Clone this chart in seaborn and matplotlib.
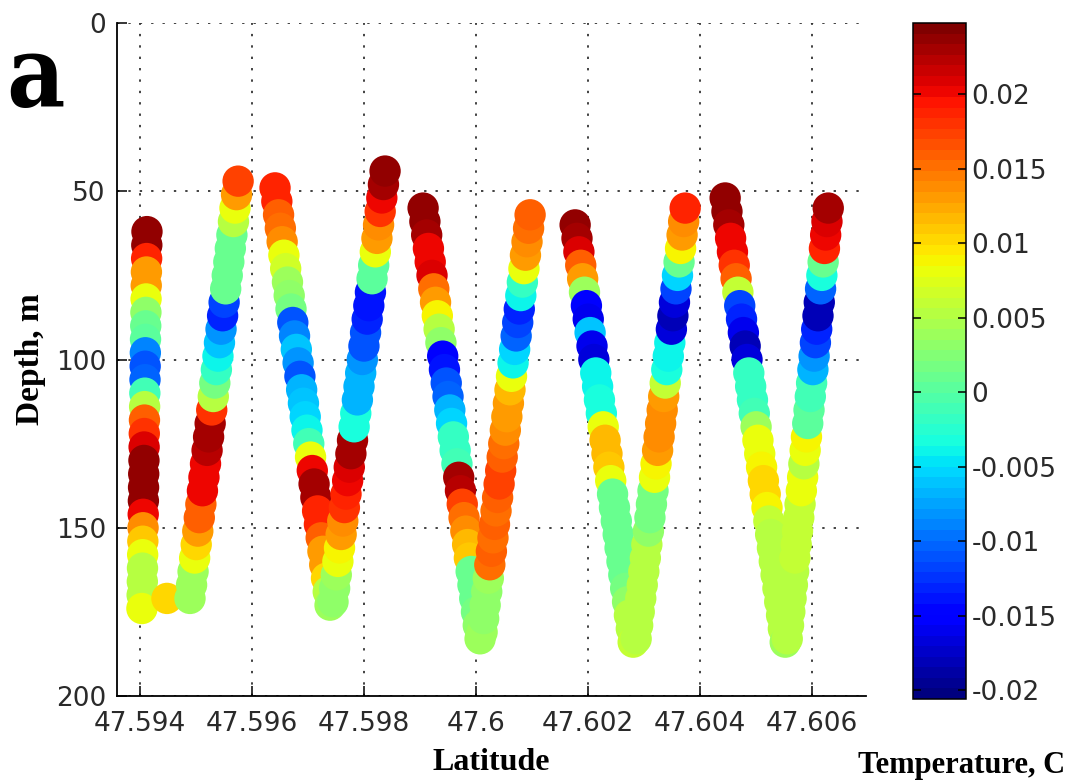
import numpy as np
import pandas as pd
import matplotlib
matplotlib.use("Agg")
import matplotlib.pyplot as plt
from matplotlib.colors import Normalize
from matplotlib.cm import ScalarMappable
import seaborn as sns

# ---------------- data ----------------
# glider track, leg by leg, in time order: latitude (deg N), depth (m), temperature anomaly (C)
leg1_lat = [47.594125, 47.594122, 47.594119, 47.594115, 47.594112, 47.594109, 47.594106, 47.594103,
            47.594099, 47.594096, 47.594093, 47.594090, 47.594087, 47.594083, 47.594080, 47.594077,
            47.594074, 47.594071, 47.594067, 47.594064, 47.594061, 47.594058, 47.594055, 47.594051,
            47.594048, 47.594045, 47.594042, 47.594039, 47.594035, 47.594482]
leg1_depth = [62, 66, 70, 74, 78, 82, 86, 90, 94, 98, 102, 106, 110, 114, 118, 122, 126, 130, 134,
              138, 142, 146, 150, 154, 158, 162, 166, 170, 174, 171]
leg1_temp = [0.024, 0.024, 0.019, 0.013, 0.013, 0.008, 0.003, 0.001, 0.000, -0.009, -0.011, -0.010,
             -0.001, 0.005, 0.016, 0.018, 0.021, 0.024, 0.024, 0.024, 0.024, 0.020, 0.014, 0.011,
             0.008, 0.005, 0.005, 0.005, 0.008, 0.010]

leg2_lat = [47.594893, 47.594921, 47.594948, 47.594976, 47.595004, 47.595032, 47.595059, 47.595087,
            47.595115, 47.595142, 47.595170, 47.595198, 47.595225, 47.595253, 47.595281, 47.595309,
            47.595336, 47.595364, 47.595392, 47.595419, 47.595447, 47.595475, 47.595502, 47.595530,
            47.595558, 47.595586, 47.595613, 47.595641, 47.595669, 47.595696, 47.595724, 47.595752]
leg2_depth = [171, 167, 163, 159, 155, 151, 147, 143, 139, 135, 131, 127, 123, 119, 115, 111, 107,
              103, 99, 95, 91, 87, 83, 79, 75, 71, 67, 63, 59, 55, 51, 47]
leg2_temp = [0.004, 0.004, 0.004, 0.008, 0.010, 0.013, 0.016, 0.016, 0.020, 0.020, 0.020, 0.022,
             0.023, 0.023, 0.018, 0.005, 0.002, -0.002, -0.004, -0.006, -0.008, -0.013, -0.012,
             0.001, 0.001, 0.001, 0.001, 0.001, 0.005, 0.008, 0.013, 0.017]

leg3_lat = [47.596411, 47.596443, 47.596474, 47.596506, 47.596538, 47.596569, 47.596601, 47.596633,
            47.596664, 47.596696, 47.596728, 47.596759, 47.596791, 47.596823, 47.596855, 47.596886,
            47.596918, 47.596950, 47.596981, 47.597013, 47.597045, 47.597076, 47.597108, 47.597140,
            47.597171, 47.597203, 47.597235, 47.597266, 47.597298, 47.597330, 47.597361, 47.597393]
leg3_depth = [49, 53, 57, 61, 65, 69, 73, 77, 81, 85, 89, 93, 97, 101, 105, 109, 113, 117, 121, 125,
              129, 133, 137, 141, 145, 149, 153, 157, 161, 165, 169, 173]
leg3_temp = [0.019, 0.019, 0.016, 0.015, 0.014, 0.008, 0.007, 0.004, 0.003, 0.002, -0.011, -0.009,
             -0.006, -0.008, -0.011, -0.007, -0.006, -0.005, -0.004, -0.001, 0.008, 0.020, 0.023,
             0.023, 0.019, 0.019, 0.016, 0.013, 0.013, 0.010, 0.005, 0.004]

leg4_lat = [47.597446, 47.597475, 47.597504, 47.597533, 47.597562, 47.597591, 47.597620, 47.597649,
            47.597678, 47.597707, 47.597736, 47.597765, 47.597794, 47.597823, 47.597852, 47.597881,
            47.597910, 47.597940, 47.597969, 47.597998, 47.598027, 47.598056, 47.598085, 47.598114,
            47.598143, 47.598172, 47.598201, 47.598230, 47.598259, 47.598288, 47.598317, 47.598346,
            47.598375]
leg4_depth = [172, 168, 164, 160, 156, 152, 148, 144, 140, 136, 132, 128, 124, 120, 116, 112, 108,
              104, 100, 96, 92, 88, 84, 80, 76, 72, 68, 64, 60, 56, 52, 48, 44]
leg4_temp = [0.003, 0.003, 0.004, 0.008, 0.009, 0.013, 0.014, 0.018, 0.019, 0.020, 0.021, 0.023,
             0.023, -0.003, -0.003, -0.007, -0.007, -0.007, -0.008, -0.011, -0.011, -0.013, -0.014,
             -0.014, 0.000, 0.000, 0.008, 0.013, 0.014, 0.018, 0.020, 0.023, 0.024]

leg5_lat = [47.599054, 47.599086, 47.599118, 47.599149, 47.599181, 47.599213, 47.599245, 47.599276,
            47.599308, 47.599340, 47.599372, 47.599404, 47.599435, 47.599467, 47.599499, 47.599531,
            47.599562, 47.599594, 47.599626, 47.599658, 47.599690, 47.599721, 47.599753, 47.599785,
            47.599817, 47.599849, 47.599880, 47.599912, 47.599944, 47.599976, 47.600007, 47.600039,
            47.600071]
leg5_depth = [55, 59, 63, 67, 71, 75, 79, 83, 87, 91, 95, 99, 103, 107, 111, 115, 119, 123, 127, 131,
              135, 139, 143, 147, 151, 155, 159, 163, 167, 171, 175, 179, 183]
leg5_temp = [0.024, 0.024, 0.023, 0.020, 0.020, 0.021, 0.015, 0.013, 0.009, 0.005, 0.003, -0.015,
             -0.014, -0.011, -0.010, -0.007, -0.005, -0.002, -0.002, -0.001, 0.023, 0.022, 0.017,
             0.015, 0.014, 0.012, 0.011, 0.001, 0.001, 0.001, 0.002, 0.003, 0.004]

leg6_lat = [47.600107, 47.600135, 47.600162, 47.600190, 47.600218, 47.600245, 47.600273, 47.600301,
            47.600328, 47.600356, 47.600384, 47.600411, 47.600439, 47.600466, 47.600494, 47.600522,
            47.600549, 47.600577, 47.600605, 47.600632, 47.600660, 47.600688, 47.600715, 47.600743,
            47.600771, 47.600798, 47.600826, 47.600854, 47.600881, 47.600909, 47.600937, 47.600964]
leg6_depth = [181, 177, 173, 169, 165, 161, 157, 153, 149, 145, 141, 137, 133, 129, 125, 121, 117,
              113, 109, 105, 101, 97, 93, 89, 85, 81, 77, 73, 69, 65, 61, 57]
leg6_temp = [0.004, 0.003, 0.003, 0.003, 0.004, 0.015, 0.016, 0.015, 0.016, 0.015, 0.016, 0.017,
             0.017, 0.016, 0.015, 0.014, 0.013, 0.013, 0.012, 0.008, -0.004, -0.005, -0.010, -0.012,
             -0.013, -0.004, -0.002, 0.008, 0.013, 0.014, 0.015, 0.016]

leg7_lat = [47.601768, 47.601801, 47.601835, 47.601868, 47.601902, 47.601935, 47.601969, 47.602002,
            47.602035, 47.602069, 47.602102, 47.602136, 47.602169, 47.602202, 47.602236, 47.602269,
            47.602303, 47.602336, 47.602370, 47.602403, 47.602436, 47.602470, 47.602503, 47.602537,
            47.602570, 47.602604, 47.602637, 47.602670, 47.602704, 47.602737, 47.602771, 47.602804]
leg7_depth = [60, 64, 68, 72, 76, 80, 84, 88, 92, 96, 100, 104, 108, 112, 116, 120, 124, 128, 132,
              136, 140, 144, 148, 152, 156, 160, 164, 168, 172, 176, 180, 184]
leg7_temp = [0.024, 0.023, 0.021, 0.016, 0.013, 0.004, -0.015, -0.016, -0.006, -0.016, -0.017,
             -0.004, -0.004, -0.003, -0.003, 0.008, 0.012, 0.012, 0.011, 0.008, 0.001, 0.001, 0.001,
             0.001, 0.001, 0.001, 0.001, 0.002, 0.003, 0.005, 0.005, 0.006]

leg8_lat = [47.602857, 47.602884, 47.602912, 47.602939, 47.602966, 47.602994, 47.603021, 47.603048,
            47.603076, 47.603103, 47.603130, 47.603158, 47.603185, 47.603212, 47.603240, 47.603267,
            47.603294, 47.603322, 47.603349, 47.603376, 47.603404, 47.603431, 47.603458, 47.603486,
            47.603513, 47.603541, 47.603568, 47.603595, 47.603623, 47.603650, 47.603677, 47.603705,
            47.603732]
leg8_depth = [183, 179, 175, 171, 167, 163, 159, 155, 151, 147, 143, 139, 135, 131, 127, 123, 119,
              115, 111, 107, 103, 99, 95, 91, 87, 83, 79, 75, 71, 67, 63, 59, 55]
leg8_temp = [0.005, 0.005, 0.005, 0.005, 0.005, 0.005, 0.005, 0.005, 0.003, 0.002, 0.002, 0.002,
             0.008, 0.009, 0.013, 0.014, 0.014, 0.014, 0.013, 0.006, -0.003, -0.004, -0.004, -0.017,
             -0.018, -0.017, -0.012, -0.005, 0.001, 0.009, 0.013, 0.014, 0.019]

leg9_lat = [47.604446, 47.604478, 47.604511, 47.604543, 47.604576, 47.604608, 47.604641, 47.604673,
            47.604706, 47.604738, 47.604771, 47.604803, 47.604836, 47.604868, 47.604901, 47.604933,
            47.604966, 47.604998, 47.605031, 47.605063, 47.605096, 47.605128, 47.605161, 47.605193,
            47.605226, 47.605258, 47.605290, 47.605323, 47.605355, 47.605388, 47.605420, 47.605453,
            47.605485, 47.605518]
leg9_depth = [52, 56, 60, 64, 68, 72, 76, 80, 84, 88, 92, 96, 100, 104, 108, 112, 116, 120, 124, 128,
              132, 136, 140, 144, 148, 152, 156, 160, 164, 168, 172, 176, 180, 184]
leg9_temp = [0.024, 0.024, 0.023, 0.020, 0.020, 0.018, 0.016, 0.006, -0.012, -0.013, -0.016, -0.018,
             -0.017, -0.002, -0.002, -0.002, -0.001, 0.004, 0.008, 0.008, 0.009, 0.010, 0.010, 0.009,
             0.006, 0.005, 0.005, 0.005, 0.005, 0.005, 0.005, 0.005, 0.005, 0.004]

leg10_lat = [47.605554, 47.605577, 47.605600, 47.605623, 47.605646, 47.605668, 47.605691, 47.605714,
             47.605737, 47.605760, 47.605783, 47.605806, 47.605829, 47.605851, 47.605874, 47.605897,
             47.605920, 47.605943, 47.605966, 47.605989, 47.606012, 47.606034, 47.606057, 47.606080,
             47.606103, 47.606126, 47.606149, 47.606172, 47.606195, 47.606218, 47.606240, 47.606263,
             47.606286]
leg10_depth = [183, 179, 175, 171, 167, 163, 159, 155, 151, 147, 143, 139, 135, 131, 127, 123, 119,
               115, 111, 107, 103, 99, 95, 91, 87, 83, 79, 75, 71, 67, 63, 59, 55]
leg10_temp = [0.005, 0.005, 0.005, 0.005, 0.005, 0.005, 0.006, 0.006, 0.006, 0.006, 0.006, 0.008,
              0.008, 0.005, 0.008, 0.009, 0.000, 0.000, -0.001, -0.001, -0.007, -0.008, -0.012,
              -0.013, -0.018, -0.018, -0.010, -0.003, 0.001, 0.019, 0.020, 0.021, 0.023]

x_ticks = [47.594, 47.596, 47.598, 47.600, 47.602, 47.604, 47.606]
x_tick_labels = ["47.594", "47.596", "47.598", "47.6", "47.602", "47.604", "47.606"]
y_ticks = [0, 50, 100, 150, 200]
cbar_ticks = [-0.02, -0.015, -0.01, -0.005, 0, 0.005, 0.01, 0.015, 0.02]
cbar_tick_labels = ["-0.02", "-0.015", "-0.01", "-0.005", "0", "0.005", "0.01", "0.015", "0.02"]
temp_range = (-0.0206, 0.0248)

# ---------------- build table ----------------
legs = [(leg1_lat, leg1_depth, leg1_temp), (leg2_lat, leg2_depth, leg2_temp),
        (leg3_lat, leg3_depth, leg3_temp), (leg4_lat, leg4_depth, leg4_temp),
        (leg5_lat, leg5_depth, leg5_temp), (leg6_lat, leg6_depth, leg6_temp),
        (leg7_lat, leg7_depth, leg7_temp), (leg8_lat, leg8_depth, leg8_temp),
        (leg9_lat, leg9_depth, leg9_temp), (leg10_lat, leg10_depth, leg10_temp)]
frames = []
for i, (la, de, te) in enumerate(legs):
    frames.append(pd.DataFrame({"lat": la, "depth": de, "temp": te, "leg": i + 1}))
df = pd.concat(frames, ignore_index=True)

# ---------------- plot ----------------
W, H = 1081, 783
fig = plt.figure(figsize=(W / 100, H / 100), dpi=100)
fig.patch.set_facecolor("white")
ax = fig.add_axes([117 / W, 1 - 696 / H, 749 / W, 673 / H])
cax = fig.add_axes([913 / W, 1 - 699 / H, 53 / W, 676 / H])

cmap = plt.get_cmap("jet", 64)
norm = Normalize(vmin=temp_range[0], vmax=temp_range[1])

sns.scatterplot(data=df, x="lat", y="depth", hue="temp", palette=cmap, hue_norm=norm,
                s=510, linewidth=0, edgecolor="none", legend=False, ax=ax, zorder=3)

ax.set_xlim(47.59359, 47.60696)
ax.set_ylim(200, 0)
ax.set_xticks(x_ticks)
ax.set_xticklabels(x_tick_labels)
ax.set_yticks(y_ticks)

ax.set_axisbelow(True)
ax.grid(True, color="#333333", linestyle=(0, (1.3, 5.0)), linewidth=1.3, zorder=0)
for side in ("top", "right"):
    ax.spines[side].set_visible(False)
for side in ("left", "bottom"):
    ax.spines[side].set_color("black")
    ax.spines[side].set_linewidth(1.3)

ax.tick_params(axis="both", direction="in", length=7, width=1.1, colors="black",
               labelcolor="#2a2a2a", labelsize=19)
ax.tick_params(axis="x", pad=11)
ax.tick_params(axis="y", pad=8)
for lab in ax.get_xticklabels() + ax.get_yticklabels():
    lab.set_fontfamily("DejaVu Sans")

ax.set_xlabel("Latitude", fontfamily="Liberation Serif", fontweight="bold", fontsize=23)
ax.set_ylabel("Depth, m", fontfamily="Liberation Serif", fontweight="bold", fontsize=24)
ax.xaxis.set_label_coords(0.5, -(763 - 696) / 673)
ax.xaxis.label.set_va("center")
ax.yaxis.set_label_coords((31 - 117) / 749, 0.5)
ax.yaxis.label.set_va("center")

# colorbar
sm = ScalarMappable(norm=norm, cmap=cmap)
cb = fig.colorbar(sm, cax=cax, ticks=cbar_ticks)
cb.ax.set_yticklabels(cbar_tick_labels)
cb.outline.set_edgecolor("black")
cb.outline.set_linewidth(1.1)
cax.tick_params(direction="in", length=6, width=1.1, left=True, right=True,
                labelsize=19, pad=4, labelcolor="#2a2a2a")
for lab in cax.get_yticklabels():
    lab.set_fontfamily("DejaVu Sans")

fig.text(962 / W, 1 - 765 / H, "Temperature, C", ha="center", va="center",
         fontfamily="Liberation Serif", fontweight="bold", fontsize=22)
fig.text(35 / W, 1 - 80 / H, "a", ha="center", va="center",
         fontfamily="DejaVu Serif", fontweight="bold", fontstretch="condensed", fontsize=72)

fig.savefig("out.png", dpi=100, facecolor="white")
